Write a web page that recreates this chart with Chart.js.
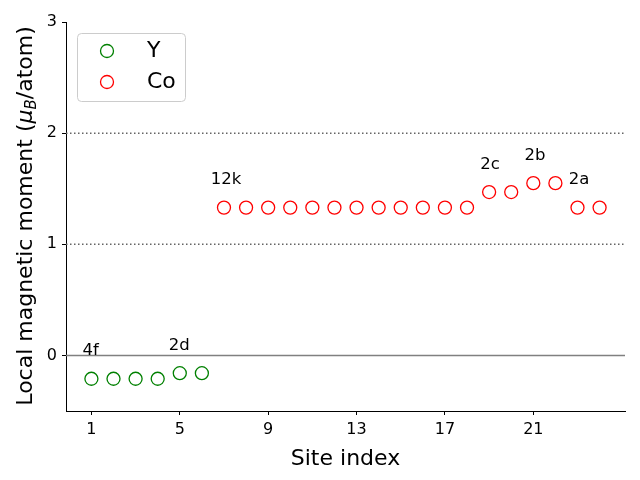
<!DOCTYPE html>
<html>
<head>
<meta charset="utf-8">
<script src="https://cdn.jsdelivr.net/npm/chart.js@4"></script>
<style>
  body { margin: 0; background: #fff; }
</style>
</head>
<body>
<canvas id="chart" width="640" height="480"></canvas>
<script>
// data
const ySites = [1, 2, 3, 4, 5, 6];
const yMoments = [-0.21, -0.21, -0.21, -0.21, -0.16, -0.16];
const coSites = [7, 8, 9, 10, 11, 12, 13, 14, 15, 16, 17, 18, 19, 20, 21, 22, 23, 24];
const coMoments = [1.33, 1.33, 1.33, 1.33, 1.33, 1.33, 1.33, 1.33, 1.33, 1.33, 1.33, 1.33, 1.47, 1.47, 1.55, 1.55, 1.33, 1.33];
const xTicks = [1, 5, 9, 13, 17, 21];
const yTicks = [0, 1, 2, 3];
const siteLabels = ['4f', '2d', '12k', '2c', '2b', '2a'];
const labelX = [0.6, 4.5, 6.4, 18.6, 20.6, 22.6];
const labelY = [0.0, 0.05, 1.54, 1.68, 1.76, 1.54];
const refLines = [0, 1, 2];

const FONT = "'DejaVu Sans', sans-serif";

// extra drawing: reference lines, site labels, legend, y title
const extras = {
    id: 'extras',
    beforeDatasetsDraw(chart) {
        const { ctx, chartArea, scales } = chart;
        ctx.save();
        ctx.lineWidth = 1.5;
        refLines.forEach(v => {
            const py = scales.y.getPixelForValue(v);
            ctx.strokeStyle = v === 0 ? 'rgba(128,128,128,1)' : 'rgba(100,100,100,1)';
            ctx.setLineDash(v === 0 ? [] : [1.5, 2.5]);
            ctx.beginPath();
            ctx.moveTo(chartArea.left, py);
            ctx.lineTo(chartArea.right, py);
            ctx.stroke();
        });
        ctx.restore();
    },
    afterDraw(chart) {
        const { ctx, scales } = chart;
        ctx.save();
        // site labels
        ctx.fillStyle = '#000';
        ctx.font = '16.5px ' + FONT;
        ctx.textAlign = 'left';
        ctx.textBaseline = 'alphabetic';
        siteLabels.forEach((t, i) => {
            ctx.fillText(t, scales.x.getPixelForValue(labelX[i]), scales.y.getPixelForValue(labelY[i]));
        });

        // legend
        ctx.fillStyle = 'rgba(255,255,255,0.8)';
        ctx.strokeStyle = '#cccccc';
        ctx.lineWidth = 1;
        ctx.beginPath();
        ctx.roundRect(77.5, 33.5, 108, 68, 4);
        ctx.fill();
        ctx.stroke();
        const items = [['Y', 'green'], ['Co', 'red']];
        items.forEach((it, i) => {
            const cy = 51 + i * 31;
            ctx.beginPath();
            ctx.arc(107, cy, 6.5, 0, Math.PI * 2);
            ctx.strokeStyle = it[1];
            ctx.lineWidth = 1.3;
            ctx.stroke();
            ctx.fillStyle = '#000';
            ctx.font = '22px ' + FONT;
            ctx.textBaseline = 'middle';
            ctx.fillText(it[0], 147, cy);
        });

        // y axis title with subscript
        ctx.translate(26, 216);
        ctx.rotate(-Math.PI / 2);
        ctx.textBaseline = 'middle';
        const parts = [
            ['Local magnetic moment (', '22px ' + FONT, 0],
            ['\u03bc', 'italic 22px ' + FONT, 0],
            ['B', 'italic 15px ' + FONT, 6],
            ['/atom)', '22px ' + FONT, 0]
        ];
        let total = 0;
        parts.forEach(p => { ctx.font = p[1]; total += ctx.measureText(p[0]).width; });
        let x = -total / 2;
        parts.forEach(p => {
            ctx.font = p[1];
            ctx.fillText(p[0], x, p[2]);
            x += ctx.measureText(p[0]).width;
        });
        ctx.restore();
    }
};

const ctx = document.getElementById('chart').getContext('2d');
new Chart(ctx, {
    type: 'scatter',
    data: {
        datasets: [
            {
                label: 'Y',
                data: ySites.map((s, i) => ({ x: s, y: yMoments[i] })),
                borderColor: 'green',
                backgroundColor: 'rgba(0,0,0,0)',
                pointRadius: 6.5,
                borderWidth: 1.3
            },
            {
                label: 'Co',
                data: coSites.map((s, i) => ({ x: s, y: coMoments[i] })),
                borderColor: 'red',
                backgroundColor: 'rgba(0,0,0,0)',
                pointRadius: 6.5,
                borderWidth: 1.3
            }
        ]
    },
    options: {
        responsive: false,
        animation: false,
        layout: { padding: { top: 22, right: 15, left: 0, bottom: 0 } },
        plugins: { legend: { display: false }, tooltip: { enabled: false } },
        scales: {
            x: {
                type: 'linear',
                min: -0.15,
                max: 25.15,
                afterBuildTicks: s => { s.ticks = xTicks.map(v => ({ value: v })); },
                afterFit: s => { s.height = 69; },
                grid: { drawOnChartArea: false, tickLength: 4, color: '#000' },
                border: { color: '#000', width: 1 },
                ticks: { color: '#000', font: { family: FONT, size: 16 }, padding: 5, maxRotation: 0 },
                title: { display: true, text: 'Site index', color: '#000', font: { family: FONT, size: 22 }, padding: { top: 0, bottom: 8 } }
            },
            y: {
                min: -0.5,
                max: 3,
                afterBuildTicks: s => { s.ticks = yTicks.map(v => ({ value: v })); },
                afterFit: s => { s.width = 66; },
                grid: { drawOnChartArea: false, tickLength: 4, color: '#000' },
                border: { color: '#000', width: 1 },
                ticks: { color: '#000', font: { family: FONT, size: 16 }, padding: 5 }
            }
        }
    },
    plugins: [extras]
});
</script>
</body>
</html>
